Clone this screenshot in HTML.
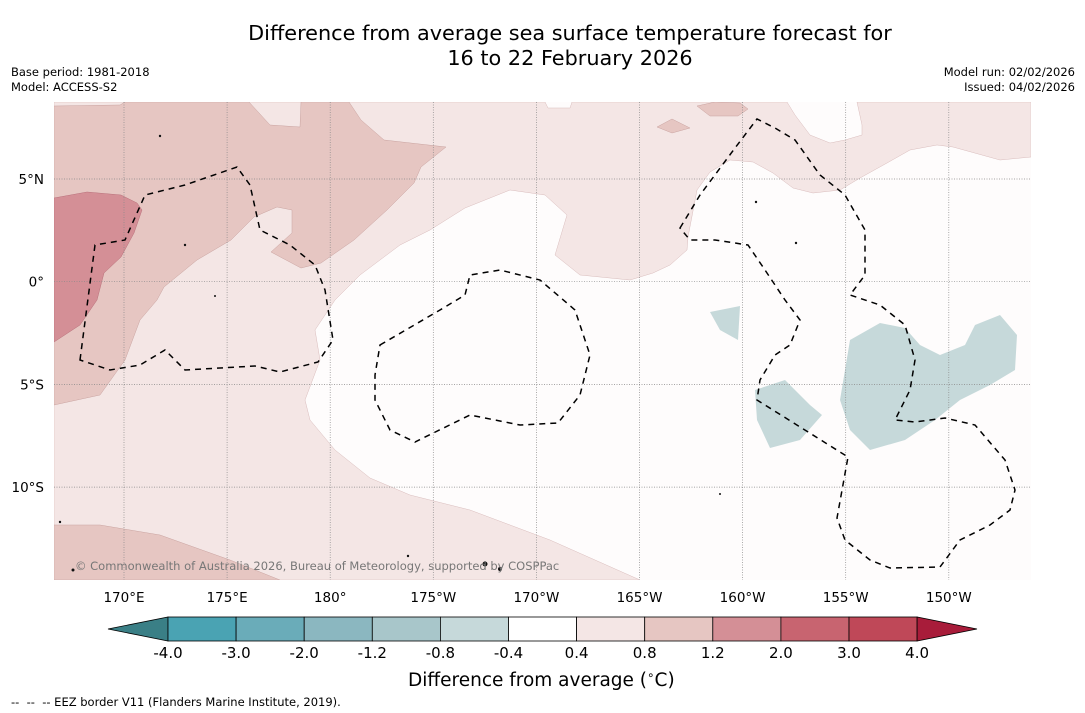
<!DOCTYPE html>
<html><head><meta charset="utf-8"><style>
body{margin:0;background:#fff;width:1085px;height:713px;overflow:hidden;font-family:"DejaVu Sans","Liberation Sans",sans-serif;position:relative}
.t{position:absolute;color:#000;white-space:nowrap}
</style></head><body>
<div class="t" style="left:0;width:1140px;top:21px;text-align:center;font-size:20.8px;line-height:24.5px">Difference from average sea surface temperature forecast for<br>16 to 22 February 2026</div>
<div class="t" style="left:11px;top:65px;font-size:11.5px;line-height:15px">Base period: 1981-2018<br>Model: ACCESS-S2</div>
<div class="t" style="right:10px;top:65px;font-size:11.5px;line-height:15px;text-align:right">Model run: 02/02/2026<br>Issued: 04/02/2026</div>
<svg id="map" style="position:absolute;left:0;top:0" width="1085" height="713">
<defs><clipPath id="cp"><rect x="54" y="102" width="977" height="478"/></clipPath></defs>
<g clip-path="url(#cp)">
<rect x="54" y="102" width="977" height="478" fill="#fefcfc"/>
<path fill="#f4e6e5" stroke="#d9bcbc" stroke-width="0.5" d="M54,102 L545,102 L548,108 L570,108 L572,102 L787,102 L795,115 L810,135 L830,143 L845,140 L862,135 L862,125 L857,102 L1031,102 L1031,157 L1000,160 L953,147 L937,145 L910,150 L887,163 L860,178 L840,190 L813,193 L793,188 L773,173 L753,162 L730,160 L710,172 L697,190 L688,237 L687,250 L670,265 L653,273 L630,280 L580,275 L555,255 L567,215 L545,195 L510,190 L465,208 L430,230 L400,245 L360,275 L335,300 L315,330 L320,360 L305,400 L310,420 L335,450 L370,478 L410,495 L470,510 L550,540 L640,580 L54,580 Z"/>
<path fill="#e6c6c2" stroke="#c9a3a0" stroke-width="0.5" d="M54,106 L120,105 L125,102 L249,102 L270,125 L300,127 L301,102 L349,102 L361,120 L384,140 L446,147 L421,167 L414,183 L387,210 L354,240 L321,263 L301,268 L271,252 L292,233 L292,210 L277,207 L254,217 L231,240 L197,260 L164,287 L157,300 L140,320 L125,360 L100,395 L54,405 Z"/>
<path fill="#e6c6c2" stroke="#c9a3a0" stroke-width="0.5" d="M54,525 L100,525 L160,535 L230,560 L280,580 L54,580 Z"/>
<path fill="#e6c6c2" stroke="#c9a3a0" stroke-width="0.5" d="M697,106 L715,102 L740,103 L748,109 L738,116 L710,116 Z"/>
<path fill="#e6c6c2" stroke="#c9a3a0" stroke-width="0.5" d="M657,127 L672,119 L690,128 L672,133 Z"/>
<path fill="#d48f96" stroke="#b8707a" stroke-width="0.5" d="M54,198 L87,192 L121,195 L137,203 L142,210 L134,233 L121,257 L104,273 L97,300 L80,325 L54,342 Z"/>
<path fill="#c6d9da" d="M850,340 L880,323 L905,328 L920,345 L940,355 L965,345 L975,325 L1000,315 L1017,335 L1015,370 L990,385 L960,400 L935,420 L905,440 L870,450 L850,430 L840,400 L845,370 Z"/>
<path fill="#c6d9da" d="M755,390 L785,380 L810,405 L822,415 L800,440 L770,448 L757,420 Z"/>
<path fill="#c6d9da" d="M710,312 L740,306 L738,340 L720,330 Z"/>
<g id="grid" stroke="#888" stroke-width="0.7" stroke-dasharray="1,1.5"></g>
<g fill="none" stroke="#000" stroke-width="1.5" stroke-dasharray="6,5">
<path d="M80,360 L95,245 L125,240 L145,195 L185,185 L237,167 L250,185 L260,230 L290,245 L315,265 L325,290 L333,340 L318,362 L280,372 L255,366 L185,370 L165,350 L140,365 L110,370 Z"/>
<path d="M380,345 L440,310 L465,295 L470,275 L500,270 L540,280 L575,310 L590,355 L580,395 L558,423 L520,425 L470,415 L415,442 L390,430 L375,400 L375,375 Z"/>
<path d="M680,228 L700,195 L735,148 L757,119 L775,128 L795,140 L820,175 L845,195 L865,230 L865,275 L850,295 L880,305 L905,325 L915,360 L910,390 L895,420 L915,422 L945,418 L975,425 L1005,460 L1015,490 L1010,510 L990,525 L960,540 L940,567 L890,568 L870,560 L845,540 L837,518 L848,457 L757,400 L760,380 L775,355 L790,345 L800,320 L785,300 L765,270 L748,245 L715,240 L690,240 Z"/>
</g>
<g fill="#111">
<circle cx="160" cy="136" r="1.2"/><circle cx="185" cy="245" r="1.2"/><circle cx="215" cy="296" r="1"/><circle cx="756" cy="202" r="1.2"/><circle cx="796" cy="243" r="1.2"/><circle cx="485" cy="564" r="2.5"/><circle cx="500" cy="569" r="2"/><circle cx="60" cy="522" r="1.2"/><circle cx="73" cy="570" r="1.5"/><circle cx="720" cy="494" r="1"/><circle cx="408" cy="556" r="1.2"/>
</g>
</g>
<text x="75" y="570" font-size="11.5" fill="#777" font-family="DejaVu Sans,sans-serif">© Commonwealth of Australia 2026, Bureau of Meteorology, supported by COSPPac</text>
<g id="axlabels" font-size="13.5" font-family="DejaVu Sans,sans-serif"></g>
<g id="cbar"></g>
</svg>
<div class="t" style="left:408px;top:668px;font-size:18.5px">Difference from average (<sup style="font-size:12px">∘</sup>C)</div>
<div class="t" style="left:11px;top:695px;font-size:11.5px">-- &nbsp;-- &nbsp;-- EEZ border V11 (Flanders Marine Institute, 2019).</div>
<script>
const lonLabels=["170°E","175°E","180°","175°W","170°W","165°W","160°W","155°W","150°W"];
const latLabels=["5°N","0°","5°S","10°S"];
const levels=["-4.0","-3.0","-2.0","-1.2","-0.8","-0.4","0.4","0.8","1.2","2.0","3.0","4.0"];
const colors=["#4aa3b3","#6aacb9","#8bb7c0","#a8c6ca","#c6d9da","#ffffff","#f4e6e5","#e6c6c2","#d48f96","#c86470","#bf4858"];
const ns="http://www.w3.org/2000/svg";
function lonX(i){return 124+i*103.1;}
function latY(i){return 179+i*102.7;}
const grid=document.getElementById('grid'),ax=document.getElementById('axlabels');
lonLabels.forEach((l,i)=>{const x=lonX(i);
 const ln=document.createElementNS(ns,'line');ln.setAttribute('x1',x);ln.setAttribute('x2',x);ln.setAttribute('y1',102);ln.setAttribute('y2',580);
 
 grid.appendChild(ln);
 const t=document.createElementNS(ns,'text');t.setAttribute('x',x);t.setAttribute('y',602);t.setAttribute('text-anchor','middle');t.textContent=l;
 
 ax.appendChild(t);});
latLabels.forEach((l,i)=>{const y=latY(i);
 const ln=document.createElementNS(ns,'line');ln.setAttribute('x1',54);ln.setAttribute('x2',1031);ln.setAttribute('y1',y);ln.setAttribute('y2',y);
 
 grid.appendChild(ln);
 const t=document.createElementNS(ns,'text');t.setAttribute('x',44);t.setAttribute('y',y+5);t.setAttribute('text-anchor','end');t.textContent=l;
 
 ax.appendChild(t);});
const cb=document.getElementById('cbar');const x0=168,w=68.1,y0=617,h=24;
function mk(tag,a){const e=document.createElementNS(ns,tag);for(const k in a)e.setAttribute(k,a[k]);cb.appendChild(e);return e;}
let p=mk('polygon',{points:`${x0},${y0} ${x0},${y0+h} 108,${y0+h/2}`,fill:'#3a7f86',stroke:'#000','stroke-width':0.8});


colors.forEach((c,i)=>{const r=mk('rect',{x:x0+i*w,y:y0,width:w,height:h,fill:c,stroke:'#000','stroke-width':0.8});
 
 });
const xe=x0+colors.length*w;
p=mk('polygon',{points:`${xe},${y0} ${xe},${y0+h} 977,${y0+h/2}`,fill:'#a81c3a',stroke:'#000','stroke-width':0.8});


levels.forEach((l,i)=>{const t=mk('text',{x:x0+i*w,y:658,'text-anchor':'middle','font-size':15,'font-family':'DejaVu Sans,sans-serif'});t.textContent=l;
 
 });
</script>
</body></html>
